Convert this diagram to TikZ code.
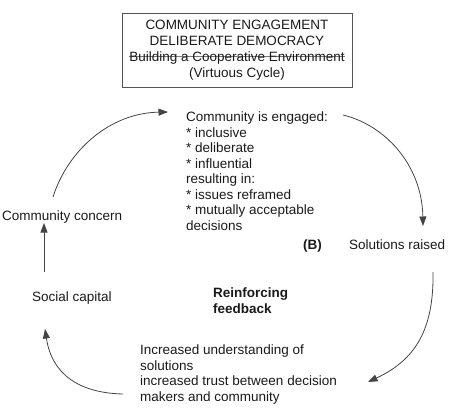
\documentclass[tikz,border=0pt]{standalone}
\usepackage{fontspec}
\setmainfont{Liberation Sans}
\usetikzlibrary{arrows.meta}
\definecolor{textc}{HTML}{1A1A1A}
\definecolor{lineg}{HTML}{444444}
\definecolor{boxc}{HTML}{555555}
\definecolor{strikec}{HTML}{777777}
\newcommand\strk[1]{\setbox0\hbox{#1}\rlap{\textcolor{strikec}{\rule[0.33em]{\wd0}{0.45pt}}}\box0}
\begin{document}
\begin{tikzpicture}[x=1pt,y=-1pt,
  font=\fontsize{13.5}{15.5}\selectfont,
  txt/.style={inner sep=0pt, text=textc},
  multi/.style={txt, align=left, anchor=north west},
  boldtxt/.style={font=\fontsize{13.5}{15.5}\selectfont\bfseries},
  conn/.style={draw=lineg, line width=0.8pt, -{Triangle[length=9.5pt,width=7pt]}}]
\useasboundingbox (0,0) rectangle (450,413);

\node[txt, draw=boxc, line width=0.8pt, minimum width=230pt, minimum height=74pt,
      align=center, font=\fontsize{13.5}{15.8}\selectfont] (title) at (237,50)
  {COMMUNITY ENGAGEMENT\\DELIBERATE DEMOCRACY\\\strk{Building a Cooperative Environment}\\(Virtuous Cycle)};

\node[multi] (eng) at (186,111.7) {Community is engaged:\\* inclusive\\* deliberate\\* influential\\resulting in:\\* issues reframed\\* mutually acceptable\\decisions};
\node[txt, anchor=base west] (cc) at (2,220.5) {Community concern};
\node[txt, anchor=base west, boldtxt] (b) at (303,249.5) {(B)};
\node[txt, anchor=base west] (sol) at (349,249.5) {Solutions raised};
\node[txt, anchor=base west] (sc) at (32,301.5) {Social capital};
\node[multi, boldtxt] (rf) at (213,288) {Reinforcing\\feedback};
\node[multi] (inc) at (140,345) {Increased understanding of\\solutions\\increased trust between decision\\makers and community};

\coordinate (a1s) at (53,197);  \coordinate (a1e) at (168,112);
\coordinate (a2s) at (343,115); \coordinate (a2e) at (423,226);
\coordinate (a3s) at (433,272); \coordinate (a3e) at (368,382);
\coordinate (a4s) at (123,394); \coordinate (a4e) at (45,329);
\coordinate (a5s) at (44,272);  \coordinate (a5e) at (44,223);

\draw[conn] (a1s) .. controls (68,150) and (110,113) .. (a1e);
\draw[conn] (a2s) .. controls (385,125) and (422,165) .. (a2e);
\draw[conn] (a3s) .. controls (434,330) and (415,360) .. (a3e);
\draw[conn] (a4s) .. controls (80,393) and (52,375) .. (a4e);
\draw[conn] (a5s) -- (a5e);
\end{tikzpicture}
\end{document}
